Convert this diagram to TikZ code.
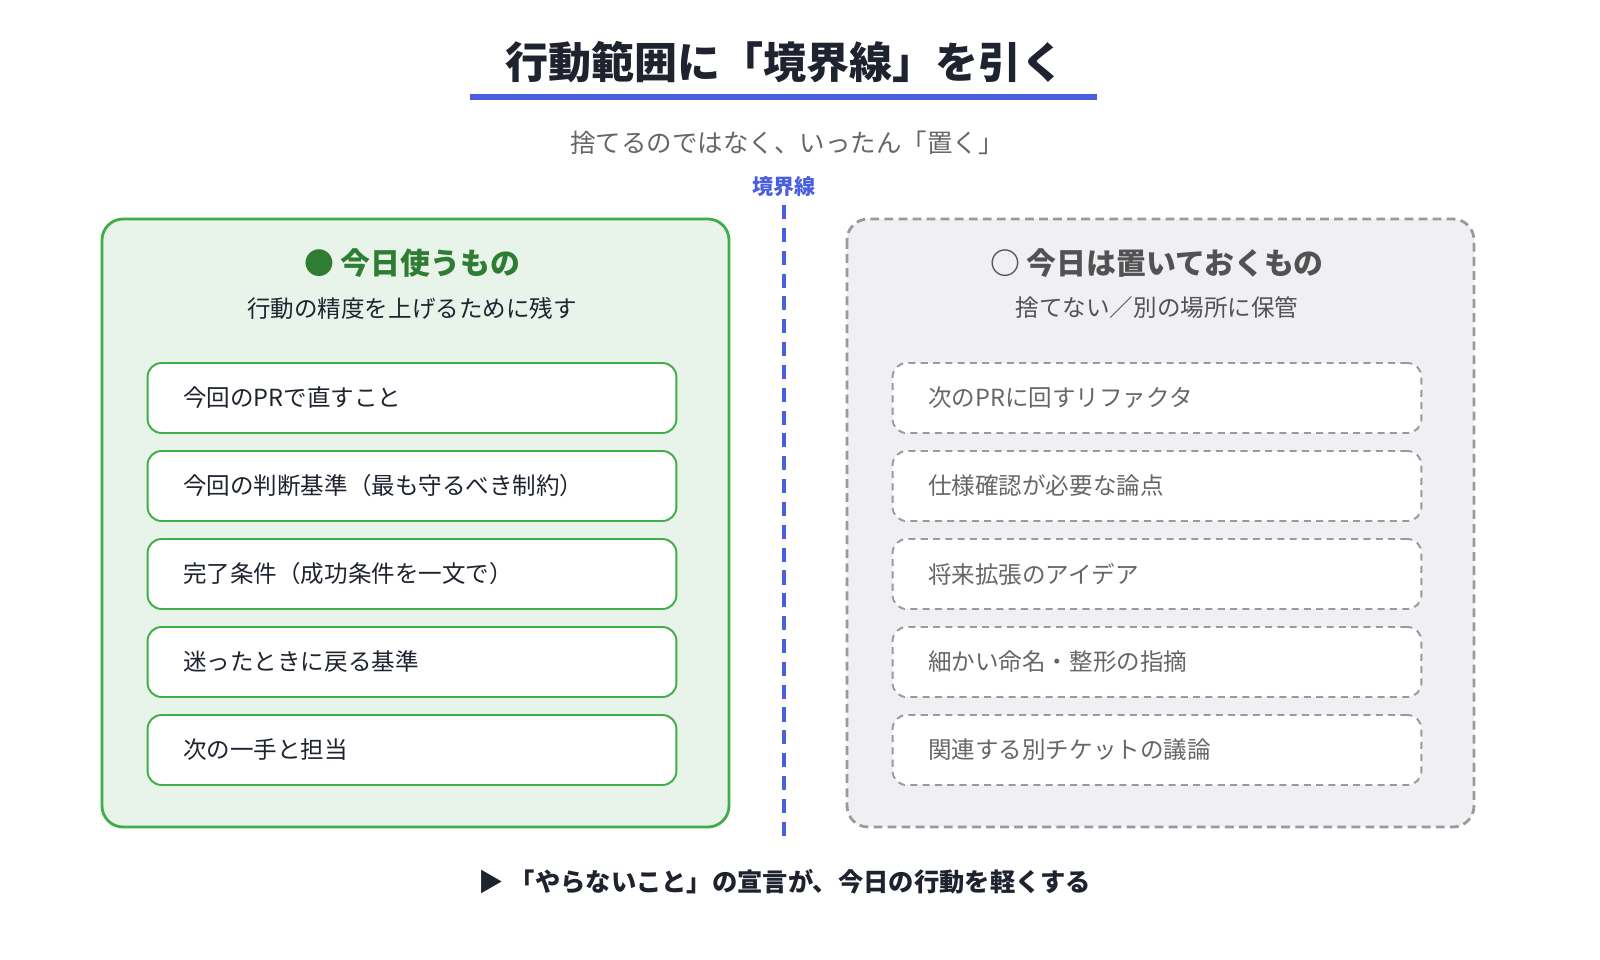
\documentclass[tikz,border=0pt]{standalone}
\usepackage{fontspec}
\setmainfont{Noto Sans CJK JP}
\usetikzlibrary{positioning}
\definecolor{titleink}{HTML}{1F2330}
\definecolor{lineblue}{HTML}{4A5FE0}
\definecolor{keepgreen}{HTML}{3FAE49}
\definecolor{keepdark}{HTML}{2E7D32}
\definecolor{keepfill}{HTML}{E8F4EA}
\definecolor{parkgray}{HTML}{9A9A9A}
\definecolor{parkfill}{HTML}{F0F0F4}
\definecolor{parkink}{HTML}{666666}
\tikzset{
  panel/.style={rounded corners=12pt, line width=1.6pt},
  keeppanel/.style={panel, draw=keepgreen, fill=keepfill},
  parkpanel/.style={panel, draw=parkgray, fill=parkfill, dash pattern=on 5pt off 3pt},
  item/.style={rounded corners=8pt, line width=1.1pt, fill=white, minimum width=10.58cm, minimum height=1.4cm},
  keepitem/.style={item, draw=keepgreen},
  parkitem/.style={item, draw=parkgray, dash pattern=on 4pt off 3pt},
  itemtext/.style={anchor=west, font=\fontsize{13.4}{16}\selectfont},
}
\begin{document}
\begin{tikzpicture}[x=0.02cm,y=-0.02cm]
  \useasboundingbox (0,0) rectangle (1600,960);

  % title
  \node[font=\fontsize{24.5}{29}\selectfont\bfseries, text=titleink] (title) at (785,62) {行動範囲に「境界線」を引く};
  \draw[lineblue, line width=3pt] (470,97) -- (1097,97);
  \node[font=\fontsize{14.5}{17}\selectfont, text=parkink] (sub) at (787,143) {捨てるのではなく、いったん「置く」};
  \node[font=\fontsize{12}{14}\selectfont\bfseries, text=lineblue] (border) at (784,187) {境界線};
  \coordinate (btop) at (784,205);
  \coordinate (bbot) at (784,842);
  \draw[lineblue, line width=2pt, dash pattern=on 8pt off 5pt] (btop) -- (bbot);

  % panels
  \draw[keeppanel] (102,219) rectangle (729,827);
  \draw[parkpanel] (847,219) rectangle (1474,827);

  \node[font=\fontsize{17}{20}\selectfont\bfseries, text=keepdark] (keephead) at (412,263) {● 今日使うもの};
  \node[font=\fontsize{13.4}{16}\selectfont, text=titleink] (keepsub) at (412,308) {行動の精度を上げるために残す};
  \node[font=\fontsize{17}{20}\selectfont\bfseries, text=parkink!80!black] (parkhead) at (1157,263) {○ 今日は置いておくもの};
  \node[font=\fontsize{13.4}{16}\selectfont, text=parkink!80!black] (parksub) at (1157,308) {捨てない／別の場所に保管};

  % items
  \foreach \i/\t in {0/今回のPRで直すこと, 1/今回の判断基準（最も守るべき制約）, 2/完了条件（成功条件を一文で）, 3/迷ったときに戻る基準, 4/次の一手と担当} {
    \node[keepitem] (keep\i) at (412,398+88*\i) {};
    \node[itemtext, text=titleink] at (177,398+88*\i) {\t};
  }
  \foreach \i/\t in {0/次のPRに回すリファクタ, 1/仕様確認が必要な論点, 2/将来拡張のアイデア, 3/細かい命名・整形の指摘, 4/関連する別チケットの議論} {
    \node[parkitem] (park\i) at (1157,398+88*\i) {};
    \node[itemtext, text=parkink] at (922,398+88*\i) {\t};
  }

  % footer
  \node[font=\fontsize{14.4}{17}\selectfont\bfseries, text=titleink] (foot) at (785,882) {▶ 「やらないこと」の宣言が、今日の行動を軽くする};
\end{tikzpicture}
\end{document}
